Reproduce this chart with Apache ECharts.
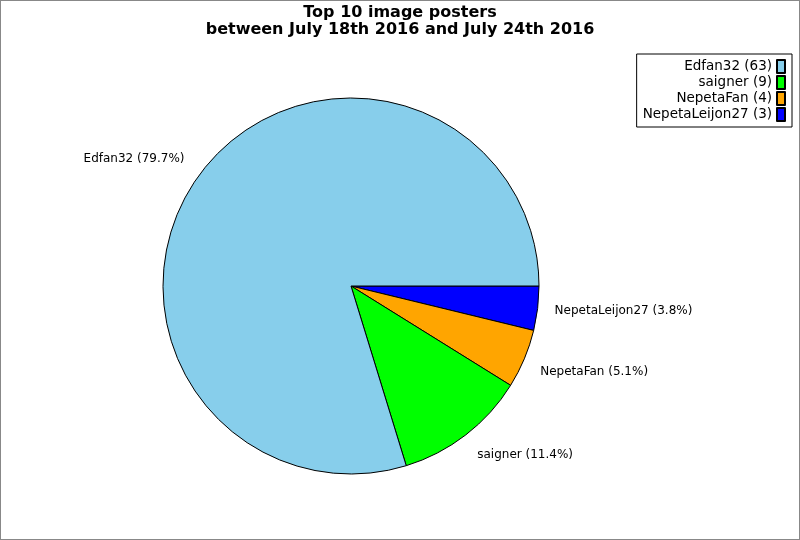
<!DOCTYPE html>
<html>
<head>
<meta charset="utf-8">
<script src="https://cdn.jsdelivr.net/npm/echarts@6/dist/echarts.min.js"></script>
<style>
  html, body { margin: 0; padding: 0; background: #fff; }
  #main { width: 798px; height: 538px; border: 1px solid #888; }
</style>
</head>
<body>
<div id="main"></div>
<script>
// posters, in drawing order (clockwise from 3 o'clock)
var names = ['NepetaLeijon27', 'NepetaFan', 'saigner', 'Edfan32'];
var counts = [3, 4, 9, 63];
var colors = ['#0000ff', '#ffa500', '#00ff00', '#87ceeb'];
// legend lists them largest first
var legendOrder = ['Edfan32', 'saigner', 'NepetaFan', 'NepetaLeijon27'];
// small nudges so the slice labels sit where the original has them
var labelNudge = [[-4, 1], [-4, 8], [-4, 9], [3, -7]];

var total = counts.reduce(function (a, b) { return a + b; }, 0);
var font = 'DejaVu Sans';

var myChart = echarts.init(document.getElementById('main'));

var option = {
  animation: false,
  title: {
    text: 'Top 10 image posters\nbetween July 18th 2016 and July 24th 2016',
    left: 'center',
    top: 3,
    padding: 0,
    textStyle: {
      fontFamily: font,
      fontSize: 16,
      fontWeight: 'bold',
      color: '#000',
      lineHeight: 17
    }
  },
  legend: {
    orient: 'vertical',
    right: 7,
    top: 53,
    align: 'right',
    data: legendOrder,
    icon: 'rect',
    itemWidth: 8,
    itemHeight: 13,
    itemGap: 1,
    padding: [5, 6, 5, 6],
    borderColor: '#000',
    borderWidth: 1,
    borderRadius: 0,
    textStyle: { fontFamily: font, fontSize: 13.5, lineHeight: 14, color: '#000' },
    formatter: function (name) {
      return name + ' (' + counts[names.indexOf(name)] + ')';
    }
  },
  series: [
    {
      type: 'pie',
      center: [350, 285],
      radius: 188,
      startAngle: 0,
      clockwise: true,
      avoidLabelOverlap: false,
      itemStyle: { borderColor: '#000', borderWidth: 1 },
      label: {
        show: true,
        position: 'outside',
        fontFamily: font,
        fontSize: 12,
        color: '#000',
        formatter: function (p) {
          return p.name + ' (' + (p.value / total * 100).toFixed(1) + '%)';
        }
      },
      labelLine: { show: false, length: 14, length2: 2 },
      emphasis: { disabled: true },
      data: names.map(function (n, i) {
        return {
          name: n,
          value: counts[i],
          itemStyle: { color: colors[i] },
          label: { offset: labelNudge[i] }
        };
      })
    }
  ]
};

myChart.setOption(option);
</script>
</body>
</html>
